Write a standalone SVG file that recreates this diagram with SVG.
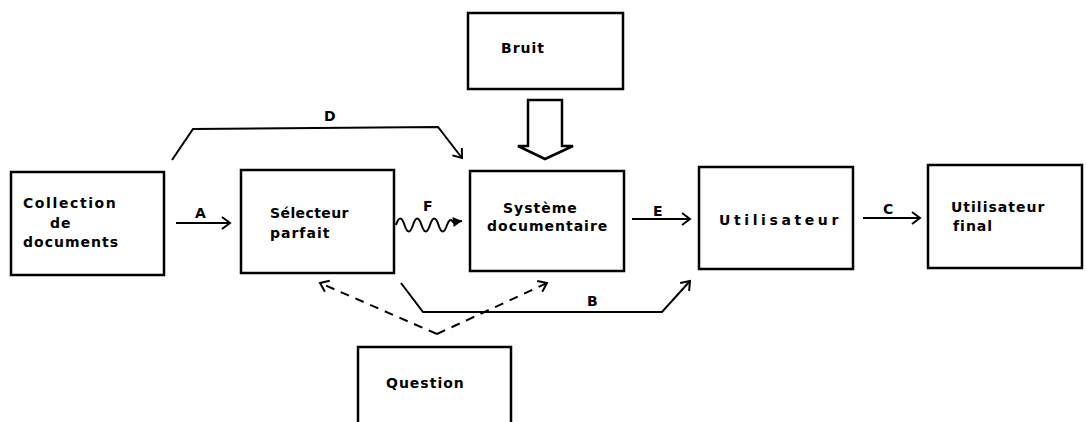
<svg xmlns="http://www.w3.org/2000/svg" width="1086" height="422" viewBox="0 0 1086 422">
<style>
.box{fill:#fff;stroke:#000;stroke-width:2.5}
.t{font-family:"DejaVu Sans","Liberation Sans",sans-serif;font-size:14px;font-weight:bold;letter-spacing:1px;fill:#000}
.lb{font-family:"DejaVu Sans","Liberation Sans",sans-serif;font-size:14px;font-weight:bold;fill:#000}
.ln{fill:none;stroke:#000;stroke-width:2}
.dash{fill:none;stroke:#000;stroke-width:2;stroke-dasharray:9,7}
</style>
<defs>
<marker id="ah" markerWidth="14" markerHeight="14" refX="11" refY="7" orient="auto" markerUnits="userSpaceOnUse">
<path d="M3,1 L11,7 L3,13" fill="none" stroke="#000" stroke-width="2"/>
</marker>
<marker id="fh" markerWidth="12" markerHeight="12" refX="10" refY="6" orient="auto" markerUnits="userSpaceOnUse">
<path d="M1,1 L10,6 L1,11 Z" fill="#000"/>
</marker>
</defs>
<rect width="1086" height="422" fill="#fff"/>
<g id="connectors">
<line class="ln" x1="176" y1="223" x2="230" y2="223" marker-end="url(#ah)"/>
<text class="lb" x="195" y="218">A</text>
<path class="ln" d="M396,225 q4.25,-13 8.5,0 q4.25,13 8.5,0 q4.25,-13 8.5,0 q4.25,13 8.5,0 q4.25,-13 8.5,0 q4.25,13 8.5,0 q3,-8 6,-3 L462,221" marker-end="url(#fh)"/>
<text class="lb" x="423" y="211">F</text>
<line class="ln" x1="632" y1="219" x2="690" y2="219" marker-end="url(#ah)"/>
<text class="lb" x="653" y="216">E</text>
<line class="ln" x1="863" y1="218" x2="920" y2="218" marker-end="url(#ah)"/>
<text class="lb" x="883" y="214">C</text>
<path class="ln" d="M172,160 L193,129 L438,127 L462,158" marker-end="url(#ah)"/>
<text class="lb" x="324" y="121">D</text>
<path class="ln" d="M401,283 L423,312 L662,312 L690,281" marker-end="url(#ah)"/>
<text class="lb" x="587" y="306">B</text>
<path class="dash" d="M437,334 L320,283" marker-end="url(#ah)"/>
<path class="dash" d="M437,334 L547,283" marker-end="url(#ah)"/>
<path d="M528,100 L562,100 L562,146 L573,146 L545,159 L518,146 L528,146 Z" fill="#fff" stroke="#000" stroke-width="2.5" stroke-linejoin="miter"/>
</g>
<g id="collection">
<rect class="box" x="11" y="172" width="153" height="103"/>
<text class="t" x="23" y="208" style="letter-spacing:1.6px">Collection</text>
<text class="t" x="50" y="228">de</text>
<text class="t" x="23" y="247">documents</text>
</g>
<g id="selecteur">
<rect class="box" x="241" y="170" width="153" height="103"/>
<text class="t" x="270" y="218" style="letter-spacing:0.4px">Sélecteur</text>
<text class="t" x="270" y="238">parfait</text>
</g>
<g id="systeme">
<rect class="box" x="470" y="171" width="154" height="100"/>
<text class="t" x="503" y="213">Système</text>
<text class="t" x="487" y="231">documentaire</text>
</g>
<g id="bruit">
<rect class="box" x="468" y="13" width="155" height="76"/>
<text class="t" x="501" y="53">Bruit</text>
</g>
<g id="utilisateur">
<rect class="box" x="699" y="167" width="154" height="102"/>
<text class="t" x="719" y="225" style="letter-spacing:3.6px">Utilisateur</text>
</g>
<g id="utilisateur-final">
<rect class="box" x="928" y="165" width="154" height="103"/>
<text class="t" x="951" y="212">Utilisateur</text>
<text class="t" x="953" y="231">final</text>
</g>
<g id="question">
<rect class="box" x="358" y="347" width="153" height="90"/>
<text class="t" x="386" y="388">Question</text>
</g>
</svg>
